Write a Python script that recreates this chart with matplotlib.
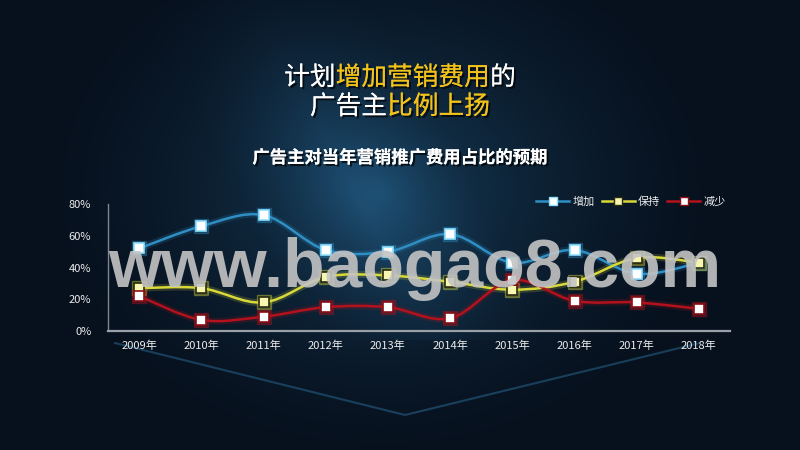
import numpy as np
import matplotlib
matplotlib.use("Agg")
import matplotlib.pyplot as plt
from matplotlib.path import Path
from matplotlib.patches import PathPatch
from matplotlib.lines import Line2D
import matplotlib.patheffects as pe

plt.rcParams['font.family'] = ['Noto Sans CJK SC', 'DejaVu Sans']

years = ['2009年', '2010年', '2011年', '2012年', '2013年', '2014年', '2015年', '2016年', '2017年', '2018年']
increase = [52, 66, 73, 51, 50, 61, 43, 51, 36, 43]
keep = [27, 27, 18, 34, 35, 31, 26, 31, 46, 43]
decrease = [22, 7, 9, 15, 15, 8, 32, 19, 18, 14]
series_names = ['增加', '保持', '减少']
yticks = [0, 20, 40, 60, 80]
ytick_labels = ['0%', '20%', '40%', '60%', '80%']

W, H = 800, 450
fig = plt.figure(figsize=(8, 4.5), dpi=100)

# background gradient
bg = fig.add_axes([0, 0, 1, 1])
bg.set_axis_off()
yy, xx = np.mgrid[0:H, 0:W]
d = np.sqrt(((xx - 380) / 340.0) ** 2 + ((yy - 190) / 270.0) ** 2)
t = np.clip(1 - d, 0, 1) ** 1.5
c_out = np.array([7, 17, 30]) / 255.0
c_in = np.array([22, 60, 88]) / 255.0
img = c_out[None, None, :] * (1 - t[..., None]) + c_in[None, None, :] * t[..., None]
# diagonal light band
band = np.clip(1 - np.abs((xx - 250) - (yy) * 0.55) / 120.0, 0, 1) * (yy < 340)
img = img + band[..., None] * np.array([0.02, 0.05, 0.07]) * t[..., None] * 2
img = np.clip(img, 0, 1)
bg.imshow(img, extent=[0, W, H, 0], aspect='auto')
bg.set_xlim(0, W)
bg.set_ylim(H, 0)
# chevron lines
bg.plot([115, 405, 700], [343, 415, 343], color='#2a6c96', lw=1.5, alpha=0.5)

# chart axes
ax = fig.add_axes([108 / W, 1 - 331 / H, 622 / W, 127 / H])
ax.set_facecolor('none')
x = np.arange(len(years))
ax.set_xlim(-0.5, len(years) - 0.5)
ax.set_ylim(0, 80)
for s in ['top', 'right']:
    ax.spines[s].set_visible(False)
ax.spines['left'].set_color('#7d8590')
ax.spines['left'].set_linewidth(1.0)
ax.spines['bottom'].set_color('#9aa0a8')
ax.spines['bottom'].set_linewidth(1.6)
ax.set_yticks(yticks)
ax.set_yticklabels(ytick_labels)
ax.set_xticks(x)
ax.set_xticklabels(years)
ax.tick_params(axis='both', length=0, colors='#ececec', labelsize=8)
ax.tick_params(axis='y', pad=12)
ax.tick_params(axis='x', pad=7)


def smooth_path(xs, ys):
    pts = np.column_stack([xs, ys]).astype(float)
    n = len(pts)
    verts = [pts[0]]
    codes = [Path.MOVETO]
    for i in range(n - 1):
        p0 = pts[max(i - 1, 0)]
        p1 = pts[i]
        p2 = pts[i + 1]
        p3 = pts[min(i + 2, n - 1)]
        c1 = p1 + (p2 - p0) / 6.0
        c2 = p2 - (p3 - p1) / 6.0
        verts += [c1, c2, p2]
        codes += [Path.CURVE4] * 3
    return Path(verts, codes)


styles = [
    (increase, '#2f8fc4', '#ffffff', '#8fe0ff'),
    (keep, '#d8d83a', '#f6f6b0', '#2a2a10'),
    (decrease, '#b3121c', '#ffffff', '#8a0e16'),
]
handles = []
for (vals, col, mfc, mec), name in zip(styles, series_names):
    p = smooth_path(x, vals)
    ax.add_patch(PathPatch(p, facecolor='none', edgecolor=col, lw=5, alpha=0.18, zorder=2))
    ax.add_patch(PathPatch(p, facecolor='none', edgecolor=col, lw=1.8, zorder=3))
    ax.plot(x, vals, linestyle='none', marker='s', markersize=9.5, markerfacecolor=col,
            markeredgecolor=col, alpha=0.35, zorder=4)
    ax.plot(x, vals, linestyle='none', marker='s', markersize=6.8, markerfacecolor=mfc,
            markeredgecolor=mec, markeredgewidth=1.2, zorder=5)
    handles.append(Line2D([0], [0], color=col, lw=1.8, marker='s', markersize=5.5,
                          markerfacecolor=mfc, markeredgecolor=mec, markeredgewidth=1))

leg = fig.legend(handles, series_names, loc='center right', bbox_to_anchor=(726 / W, 1 - 202 / H),
                 ncol=3, frameon=False, fontsize=8, handlelength=3.0, handletextpad=0.3,
                 columnspacing=0.6, borderaxespad=0, borderpad=0)
for tx in leg.get_texts():
    tx.set_color('#eeeeee')

# titles
renderer = fig.canvas.get_renderer()
shadow = [pe.withSimplePatchShadow(offset=(1.5, -1.5), shadow_rgbFace='black', alpha=0.7), pe.Normal()]


def multi_text(pieces, cx, cy, size, weight):
    objs = []
    widths = []
    for s, c in pieces:
        tt = fig.text(0, cy, s, color=c, fontsize=size, fontweight=weight, va='center', ha='left',
                      path_effects=shadow)
        bb = tt.get_window_extent(renderer=renderer)
        objs.append(tt)
        widths.append(bb.width / W)
    total = sum(widths)
    xpos = cx - total / 2
    for tt, w in zip(objs, widths):
        tt.set_x(xpos)
        xpos += w


gold = '#f2c21a'
multi_text([('计划', 'white'), ('增加营销费用', gold), ('的', 'white')], 0.5, 1 - 78 / H, 18.5, 'medium')
multi_text([('广告主', 'white'), ('比例上扬', gold)], 0.5, 1 - 107 / H, 18.5, 'medium')
fig.text(0.5, 1 - 158 / H, '广告主对当年营销推广费用占比的预期', color='white', fontsize=12.5,
         fontweight='bold', ha='center', va='center', path_effects=shadow)

# watermark
fig.text(415 / W, 1 - 287 / H, 'www.baogao8.com', family='Liberation Sans', fontweight='bold',
         fontsize=49, color='#c4c4c4', alpha=0.9, ha='center', va='baseline', zorder=10)

fig.savefig('out.png', dpi=100)
